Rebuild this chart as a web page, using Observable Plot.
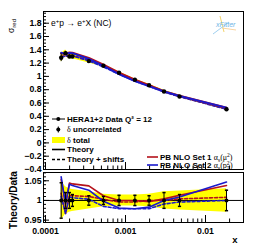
<!DOCTYPE html>
<html><head><meta charset="utf-8">
<script src="https://cdn.jsdelivr.net/npm/d3@7"></script>
<script src="https://cdn.jsdelivr.net/npm/@observablehq/plot@0.6"></script>
<style>
body{margin:0;background:#fff;}
#wrap{position:relative;width:255px;height:248px;overflow:hidden;background:#fff;}
#wrap > svg{position:absolute;left:0;}
</style></head><body><div id="wrap"></div>
<script>
// ---- data ----
const xVals   = [1.57e-4, 1.78e-4, 1.99e-4, 2.17e-4, 3.48e-4, 5.3e-4, 8.3e-4, 1.31e-3, 1.97e-3, 3.03e-3, 4.73e-3, 0.0183];
const sigmaRed = [1.28, 1.35, 1.30, 1.30, 1.23, 1.16, 1.054, 0.949, 0.868, 0.773, 0.698, 0.507];
const uncRel  = [0.045, 0.02, 0.02, 0.015, 0.012, 0.01, 0.013, 0.013, 0.012, 0.02, 0.015, 0.026];
const totRel  = [0.05, 0.035, 0.03, 0.028, 0.022, 0.016, 0.014, 0.014, 0.016, 0.022, 0.024, 0.03];
const ratioSet1      = [1.053, 0.992, 1.044, 1.042, 1.037, 1.012, 1.0, 1.0, 0.997, 1.004, 1.013, 1.038];
const ratioSet2      = [1.06, 0.99, 1.041, 1.038, 1.026, 0.998, 0.981, 0.979, 0.983, 1.0, 1.009, 1.047];
const ratioSet1Shift = [1.018, 0.967, 1.013, 1.012, 1.01, 1.003, 0.996, 0.996, 1.0, 1.0, 1.004, 1.008];
const ratioSet2Shift = [1.01, 0.967, 1.009, 1.007, 1.003, 0.985, 0.979, 0.979, 0.979, 0.991, 0.996, 1.0];
const xTickLabels = [1e-4, 1e-3, 1e-2];
const xMinorTicks = [2e-4,3e-4,4e-4,5e-4,6e-4,7e-4,8e-4,9e-4,2e-3,3e-3,4e-3,5e-3,6e-3,7e-3,8e-3,9e-3,2e-2];
const yTopTicks = [-0.4,-0.2,0,0.2,0.4,0.6,0.8,1,1.2,1.4,1.6,1.8];
const yBotTicks = [0.95, 1, 1.05];
const legendLeft = ["HERA1+2 Data Q\u00b2 = 12", "\u03b4 uncorrelated", "\u03b4 total", "Theory", "Theory + shifts"];
const legendRight = ["PB NLO Set 1", "PB NLO Set 2"];

const RED = "#b5121b", BLUE = "#1a1acc", YEL = "#ffff00";
const FONT = "Liberation Sans, Arial, Helvetica, sans-serif";

const rows = xVals.map((x, i) => ({
  x, s: sigmaRed[i], unc: uncRel[i], tot: totRel[i],
  r1: ratioSet1[i], r2: ratioSet2[i], r1s: ratioSet1Shift[i], r2s: ratioSet2Shift[i]
}));

const xDomain = [Math.pow(10, -4.025), Math.pow(10, -1.525)];
const fmt = d => (Math.round(d * 1000) / 1000).toString();
const xfmt = d => d === 1e-4 ? "0.0001" : d === 1e-3 ? "0.001" : "0.01";

const topMinorY = d3.range(-0.4, 1.976, 0.05);
const botMinorY = d3.range(0.95, 1.071, 0.01);

const capSymbol = {draw(ctx, size) { const w = 1.6; ctx.moveTo(-w, 0); ctx.lineTo(w, 0); }};

function xTicks(frameH) {
  return [
    Plot.tickX(xTickLabels, {x: d => d, stroke: "black", strokeWidth: 1, insetTop: frameH - 7}),
    Plot.tickX(xMinorTicks, {x: d => d, stroke: "black", strokeWidth: 1, insetTop: frameH - 3.5})
  ];
}

const topPlot = Plot.plot({
  width: 255, height: 172,
  marginLeft: 43, marginRight: 12, marginTop: 11, marginBottom: 3,
  style: {fontFamily: FONT, fontSize: "8.7px", fontWeight: "bold", background: "transparent", overflow: "visible", color: "black"},
  x: {type: "log", domain: xDomain, axis: null},
  y: {domain: [-0.4, 1.976], label: null},
  marks: [
    Plot.areaY(rows, {x: "x", y1: d => d.s * (1 - d.tot), y2: d => d.s * (1 + d.tot), fill: YEL}),
    Plot.line(rows, {x: "x", y: d => d.s * d.r1s, stroke: RED, strokeWidth: 1.6, strokeDasharray: "3,2"}),
    Plot.line(rows, {x: "x", y: d => d.s * d.r2s, stroke: BLUE, strokeWidth: 1.6, strokeDasharray: "3,2"}),
    Plot.line(rows, {x: "x", y: d => d.s * d.r1, stroke: RED, strokeWidth: 2.2}),
    Plot.line(rows, {x: "x", y: d => d.s * d.r2, stroke: BLUE, strokeWidth: 2}),
    Plot.ruleX(rows, {x: "x", y1: d => d.s * (1 - d.unc), y2: d => d.s * (1 + d.unc), stroke: "black"}),
    Plot.dot(rows, {x: "x", y: "s", r: 2.2, fill: "black"}),
    Plot.tickY(yTopTicks, {y: d => d, stroke: "black", insetRight: 200 - 6}),
    Plot.tickY(topMinorY, {y: d => d, stroke: "black", insetRight: 200 - 3}),
    ...xTicks(158),
    Plot.axisY(yTopTicks, {tickSize: 0, tickPadding: 2, label: null, tickFormat: d => fmt(d).replace("-", "\u2212"), fontWeight: "bold", fontSize: 8.7}),
    Plot.frame({stroke: "black", strokeWidth: 1})
  ]
});
topPlot.style.top = "0px";

const botPlot = Plot.plot({
  width: 255, height: 76,
  marginLeft: 43, marginRight: 12, marginTop: 0, marginBottom: 26,
  style: {fontFamily: FONT, fontSize: "8.7px", fontWeight: "bold", background: "#fff", overflow: "visible", color: "black"},
  x: {type: "log", domain: xDomain, label: null},
  y: {domain: [0.944, 1.071], label: null},
  marks: [
    Plot.areaY(rows, {x: "x", y1: d => 1 - d.tot, y2: d => 1 + d.tot, fill: YEL, clip: true}),
    Plot.ruleY([1], {stroke: "black", strokeWidth: 1}),
    Plot.line(rows, {x: "x", y: "r1s", stroke: RED, strokeWidth: 1.6, strokeDasharray: "3,2", clip: true}),
    Plot.line(rows, {x: "x", y: "r2s", stroke: BLUE, strokeWidth: 1.6, strokeDasharray: "3,2", clip: true}),
    Plot.line(rows, {x: "x", y: "r1", stroke: RED, strokeWidth: 1.6, clip: true}),
    Plot.line(rows, {x: "x", y: "r2", stroke: BLUE, strokeWidth: 1.6, clip: true}),
    Plot.ruleX(rows, {x: "x", y1: d => 1 - d.unc, y2: d => 1 + d.unc, stroke: "black", strokeWidth: 1}),
    Plot.dot(rows, {x: "x", y: d => 1 - d.unc, symbol: capSymbol, r: 2, stroke: "black", fill: "none"}),
    Plot.dot(rows, {x: "x", y: d => 1 + d.unc, symbol: capSymbol, r: 2, stroke: "black", fill: "none"}),
    Plot.dot(rows, {x: "x", y: () => 1, r: 2, fill: "black"}),
    Plot.tickY(yBotTicks, {y: d => d, stroke: "black", insetRight: 200 - 6}),
    Plot.tickY(botMinorY, {y: d => d, stroke: "black", insetRight: 200 - 3}),
    ...xTicks(50),
    Plot.axisY(yBotTicks, {tickSize: 0, tickPadding: 2, label: null, tickFormat: fmt, fontWeight: "bold", fontSize: 8.7}),
    Plot.axisX(xTickLabels, {tickSize: 0, tickPadding: 5, label: null, tickFormat: xfmt, fontWeight: "bold", fontSize: 8.7}),
    Plot.frame({stroke: "black", strokeWidth: 1})
  ]
});
botPlot.style.top = "172px";

const wrap = document.getElementById("wrap");
wrap.appendChild(botPlot);
wrap.appendChild(topPlot);

// ---- overlay: titles, legend, logo ----
const ov = d3.create("svg").attr("width", 255).attr("height", 248)
  .style("position", "absolute").style("left", "0px").style("top", "0px")
  .style("font-family", FONT);

// y titles
const sig = ov.append("text").attr("transform", "translate(14,19) rotate(-90)")
  .attr("text-anchor", "end").attr("font-size", 8.5);
sig.append("tspan").text("\u03c3");
sig.append("tspan").attr("font-size", 6).attr("dy", 2).text("red");

ov.append("text").attr("transform", "translate(17,200) rotate(-90)")
  .attr("text-anchor", "middle").attr("font-size", 10).attr("font-weight", "bold").text("Theory/Data");
ov.append("text").attr("x", 235).attr("y", 243).attr("text-anchor", "middle")
  .attr("font-size", 9.5).attr("font-weight", "bold").text("x");

// process label
const proc = ov.append("text").attr("x", 51).attr("y", 26).attr("font-size", 8.5);
proc.append("tspan").text("e");
proc.append("tspan").attr("font-size", 6).attr("dy", -3).text("+");
proc.append("tspan").attr("dy", 3).text("p \u2192 e");
proc.append("tspan").attr("font-size", 6).attr("dy", -3).text("+");
proc.append("tspan").attr("dy", 3).text("X (NC)");

// left legend
const lx0 = 52, lx1 = 65, lxc = 58.3, ltx = 67;
const rowsY = [119, 129.5, 140, 149.5, 159.5];
const lg = ov.append("g");
lg.append("line").attr("x1", lx0).attr("x2", lx1).attr("y1", rowsY[0]).attr("y2", rowsY[0]).attr("stroke", "black");
lg.append("circle").attr("cx", lxc).attr("cy", rowsY[0]).attr("r", 2).attr("fill", "black");
lg.append("line").attr("x1", lxc).attr("x2", lxc).attr("y1", rowsY[1] - 3).attr("y2", rowsY[1] + 3).attr("stroke", "black");
lg.append("circle").attr("cx", lxc).attr("cy", rowsY[1]).attr("r", 2).attr("fill", "black");
lg.append("rect").attr("x", lx0).attr("y", rowsY[2] - 3).attr("width", lx1 - lx0).attr("height", 6).attr("fill", YEL);
lg.append("line").attr("x1", lx0).attr("x2", lx1).attr("y1", rowsY[3]).attr("y2", rowsY[3]).attr("stroke", "black").attr("stroke-width", 1.6);
lg.append("line").attr("x1", lx0).attr("x2", lx1).attr("y1", rowsY[4]).attr("y2", rowsY[4]).attr("stroke", "black").attr("stroke-width", 1.6).attr("stroke-dasharray", "3,2");
legendLeft.forEach((t, i) => {
  const tx = lg.append("text").attr("x", ltx).attr("y", rowsY[i]).attr("dy", "0.35em")
    .attr("font-size", 8).attr("font-weight", "bold");
  if (t.startsWith("\u03b4")) {
    tx.append("tspan").attr("font-family", "Liberation Serif, serif").attr("font-weight", "normal").text("\u03b4");
    tx.append("tspan").text(t.slice(1));
  } else tx.text(t);
});

// right legend
const rRowsY = [157, 165];
const rcol = [RED, BLUE];
legendRight.forEach((t, i) => {
  const y = rRowsY[i];
  lg.append("line").attr("x1", 147).attr("x2", 158).attr("y1", y).attr("y2", y).attr("stroke", rcol[i]).attr("stroke-width", 1.6);
  const tx = lg.append("text").attr("x", 160).attr("y", y).attr("dy", "0.35em").attr("font-size", 8).attr("font-weight", "bold");
  tx.append("tspan").text(t + " ");
  const serif = () => tx.append("tspan").attr("font-family", "Liberation Serif, serif").attr("font-weight", "normal");
  serif().text("\u03b1");
  serif().attr("font-size", 5.5).attr("dy", 2).text("s");
  if (i === 0) {
    serif().attr("dy", -2).text("(\u03bc");
    serif().attr("font-size", 5.5).attr("dy", -3).text("2");
    serif().attr("dy", 3).text(")");
  } else {
    serif().attr("dy", -2).text("(p");
    serif().attr("font-size", 5.5).attr("dy", -3).text("2");
    serif().attr("font-size", 5.5).attr("dx", -3).attr("dy", 5).text("T");
    serif().attr("dy", -2).text(")");
  }
});

// logo
const logo = ov.append("g");
logo.append("line").attr("x1", 220).attr("y1", 16).attr("x2", 224).attr("y2", 32).attr("stroke", "#f3d36b").attr("stroke-width", 1);
logo.append("line").attr("x1", 213).attr("y1", 34).attr("x2", 229).attr("y2", 22).attr("stroke", "#9fd0f0").attr("stroke-width", 1);
logo.append("line").attr("x1", 222).attr("y1", 28).attr("x2", 236).attr("y2", 30).attr("stroke", "#f6c98a").attr("stroke-width", 0.8);
logo.append("text").attr("x", 216).attr("y", 27).attr("font-size", 7).attr("font-style", "italic")
  .attr("fill", "#6fb5e6").text("xFitter");

wrap.appendChild(ov.node());
</script>
</body></html>
